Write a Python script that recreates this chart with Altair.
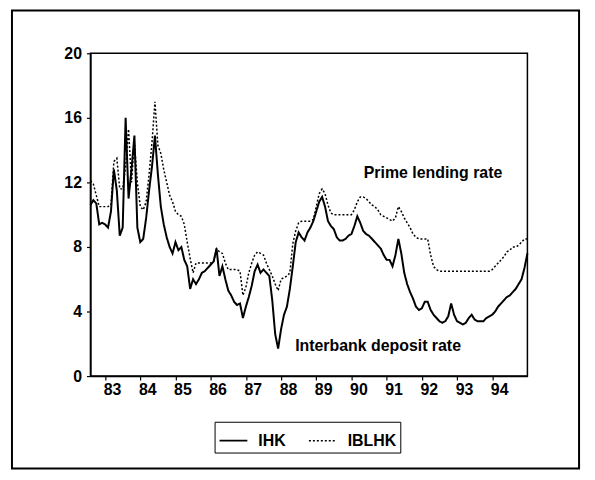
import altair as alt
import pandas as pd

# ---- data (monthly, Aug 1982 .. Jan 1995) ----
start_year = 1982
start_month = 8

ihk = [
    10.6, 10.9, 10.7, 9.4, 9.5, 9.4, 9.2, 10.2, 12.8, 11.5,
    8.7, 9.2, 16.0, 11.0, 12.8, 14.9, 9.2, 8.3, 8.5, 9.8,
    11.5, 13.0, 14.9, 12.5, 10.5, 9.4, 8.6, 8.0, 7.6, 8.3,
    7.8, 8.0, 7.2, 6.8, 5.4, 6.0, 5.7, 6.0, 6.4, 6.5,
    6.7, 6.9, 7.1, 7.9, 6.2, 6.8, 6.0, 5.3, 5.0, 4.6,
    4.4, 4.5, 3.6, 4.3, 4.9, 5.6, 6.5, 6.9, 6.4, 6.6,
    6.4, 6.2, 4.7, 2.6, 1.7, 2.9, 3.8, 4.3, 5.4, 6.8,
    8.3, 8.9, 8.6, 8.4, 8.9, 9.2, 9.6, 10.2, 10.8, 11.1,
    10.5, 9.6, 9.3, 9.1, 8.6, 8.4, 8.4, 8.5, 8.7, 8.8,
    9.3, 9.9, 9.5, 9.0, 8.8, 8.7, 8.5, 8.3, 8.1, 7.9,
    7.5, 7.2, 7.2, 6.8, 7.5, 8.5, 7.6, 6.4, 5.7, 5.2,
    4.8, 4.3, 4.1, 4.2, 4.6, 4.6, 4.1, 3.8, 3.6, 3.4,
    3.3, 3.4, 3.7, 4.5, 3.8, 3.4, 3.3, 3.2, 3.3, 3.6,
    3.8, 3.5, 3.4, 3.4, 3.4, 3.6, 3.7, 3.8, 4.0, 4.3,
    4.5, 4.7, 4.9, 5.0, 5.2, 5.4, 5.7, 6.0, 6.7, 7.6,
]

iblhk = [
    12.1, 11.9, 11.2, 10.5, 10.5, 10.5, 10.5, 10.6, 13.3, 13.5,
    11.6, 11.6, 13.0, 15.3, 12.0, 14.5, 12.0, 10.5, 10.3, 10.8,
    12.5, 14.5, 17.0, 14.3, 13.8, 12.8, 12.0, 11.2, 10.8, 10.2,
    10.0, 9.9, 9.4, 8.3, 7.3, 6.4, 7.0, 7.0, 7.0, 7.0,
    7.0, 7.0, 7.1, 7.9, 7.7, 7.6, 7.0, 6.6, 6.6, 6.6,
    6.6, 6.5, 5.0, 5.5, 6.4, 7.0, 7.5, 7.7, 7.6, 7.5,
    7.0, 6.6, 6.2, 5.7, 5.3, 6.0, 6.1, 6.2, 6.4, 8.2,
    9.0, 9.5, 9.6, 9.6, 9.6, 9.6, 9.7, 10.5, 11.3, 11.6,
    11.3, 10.6, 10.1, 10.0, 10.0, 10.0, 10.0, 10.0, 10.0, 10.0,
    10.3, 10.8, 11.1, 11.1, 11.0, 10.8, 10.6, 10.5, 10.3, 10.0,
    9.9, 9.8, 9.7, 9.6, 9.8, 10.5, 10.2, 9.8, 9.5, 9.2,
    8.8, 8.6, 8.5, 8.5, 8.5, 8.5, 7.5, 6.8, 6.6, 6.5,
    6.5, 6.5, 6.5, 6.5, 6.5, 6.5, 6.5, 6.5, 6.5, 6.5,
    6.5, 6.5, 6.5, 6.5, 6.5, 6.5, 6.5, 6.6, 6.8, 7.0,
    7.2, 7.4, 7.7, 7.8, 8.0, 8.0, 8.1, 8.3, 8.5, 8.5,
]

series_names = ["IHK", "IBLHK"]
year_ticks = list(range(1983, 1995))
y_ticks = [0, 4, 8, 12, 16, 20]

note_text = ["Prime lending rate", "Interbank deposit rate"]
note_t = [1990.35, 1988.40]
note_v = [12.6, 1.86]

# ---- build table ----
n = len(ihk)
t = [start_year + (start_month - 1 + i) / 12 for i in range(n)]
df = pd.DataFrame({
    "t": t + t,
    "v": ihk + iblhk,
    "s": ["IHK"] * n + ["IBLHK"] * n,
})
notes = pd.DataFrame({"t": note_t, "v": note_v, "label": note_text})

FONT = "Liberation Sans"
FS = 16
FW = "bold"

x_scale = alt.Scale(domain=[t[0], t[-1]], nice=False, zero=False)
y_scale = alt.Scale(domain=[0, 20], nice=False)

x_axis = alt.Axis(values=year_ticks,
                  labelExpr="slice(toString(datum.value), 2)",
                  labelOverlap=False,
                  tickSize=4, labelOffset=7, labelPadding=2, grid=False,
                  labelFontSize=FS, labelFont=FONT, labelColor="black",
                  labelFontWeight=FW,
                  tickColor="black", domainColor="black",
                  domainWidth=1.5, tickWidth=1.2)
y_axis = alt.Axis(values=y_ticks, tickSize=4, labelPadding=5,
                  grid=False, labelFontSize=FS, labelFont=FONT,
                  labelFontWeight=FW,
                  labelColor="black", tickColor="black",
                  domainColor="black", domainWidth=1.5,
                  tickWidth=1.2)

legend = alt.Legend(
    orient="none", legendX=125, legendY=371, direction="horizontal",
    title=None, strokeColor="black", padding=4, symbolType="stroke",
    symbolSize=784, symbolStrokeWidth=1.8, labelFontSize=FS, labelFont=FONT,
    labelFontWeight=FW, labelColor="black", labelOffset=10, columnPadding=20,
)

lines = alt.Chart(df).mark_line().encode(
    x=alt.X("t:Q", scale=x_scale, title=None, axis=x_axis),
    y=alt.Y("v:Q", scale=y_scale, title=None, axis=y_axis),
    color=alt.Color("s:N", scale=alt.Scale(domain=series_names,
                                           range=["black", "black"]),
                    legend=legend),
    strokeDash=alt.StrokeDash("s:N", scale=alt.Scale(domain=series_names,
                                                     range=[[1, 0], [2, 2]]),
                              legend=legend),
    strokeWidth=alt.StrokeWidth("s:N", scale=alt.Scale(domain=series_names,
                                                       range=[2.0, 1.5]),
                                legend=None),
    order="t:Q",
)

texts = alt.Chart(notes).mark_text(
    align="left", baseline="middle", font=FONT, fontSize=FS,
    fontWeight=FW, color="black"
).encode(
    x=alt.X("t:Q", scale=x_scale, title=None, axis=x_axis),
    y=alt.Y("v:Q", scale=y_scale, title=None, axis=y_axis),
    text="label:N",
)

frame = alt.Chart(alt.Data(values=[{}])).mark_rect(
    fill="transparent", stroke="black", strokeWidth=2, clip=False
).encode(
    x=alt.value(-79), x2=alt.value(492), y=alt.value(-43), y2=alt.value(418)
)

chart = alt.layer(frame, lines, texts).properties(
    width=440, height=325,
    autosize=alt.AutoSizeParams(type="none"),
    padding={"left": 83, "top": 44, "right": 60, "bottom": 100},
    background="white",
).configure_view(stroke="black", strokeWidth=1.5).configure_axisX(
    labelOverlap=False
)

chart.save("out.html", embed_options={"renderer": "svg", "actions": False})
